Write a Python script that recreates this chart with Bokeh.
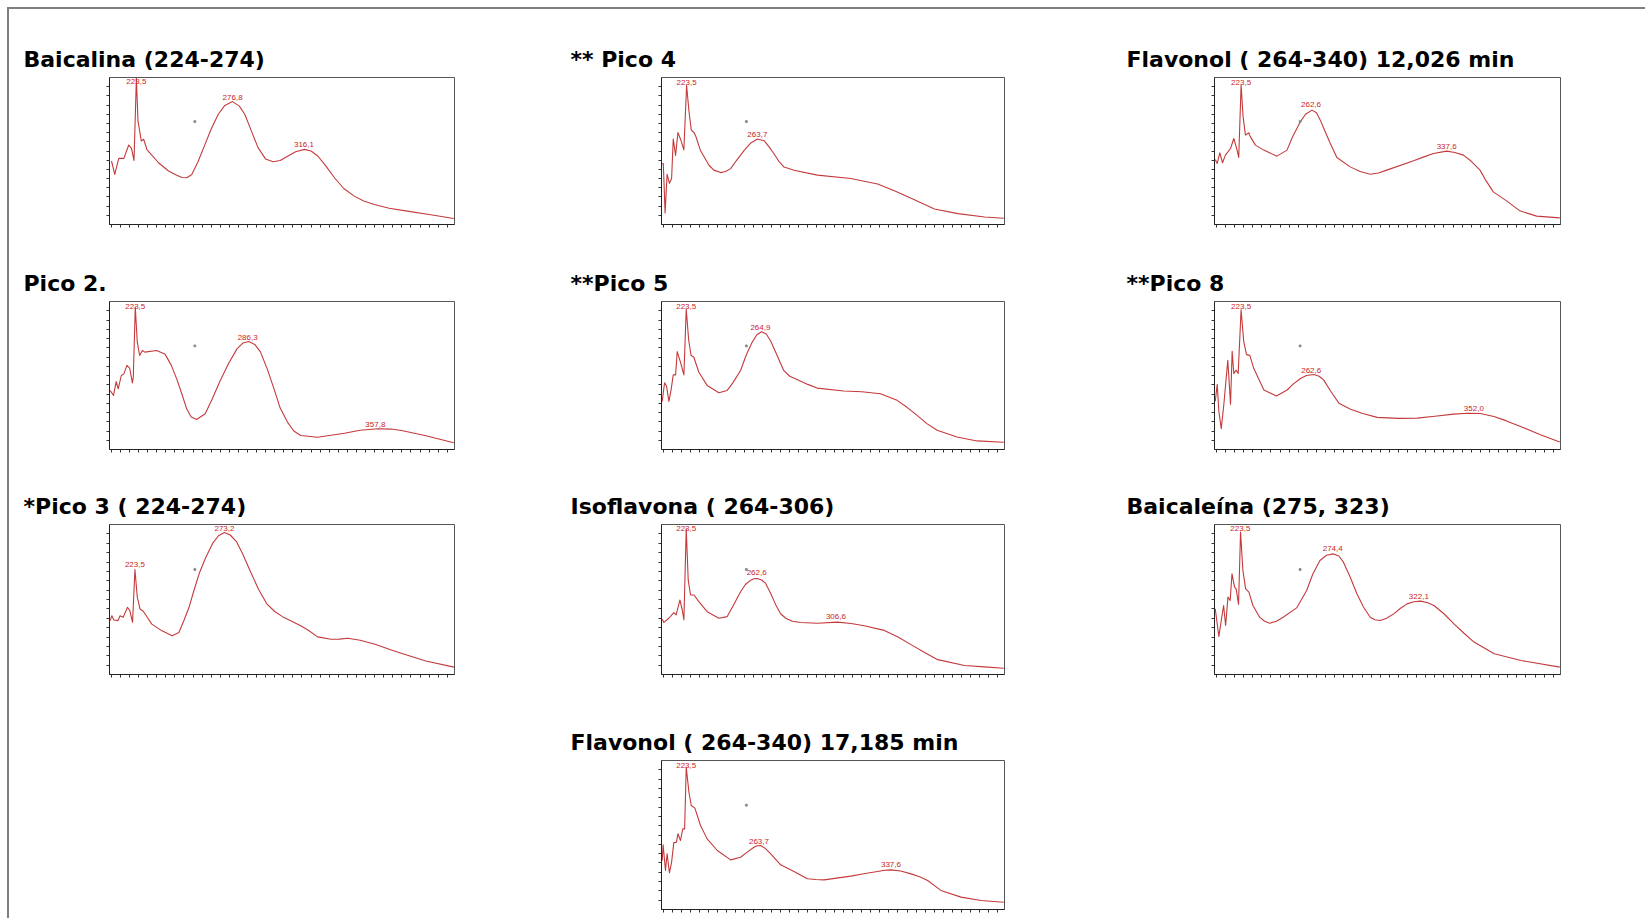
from bokeh.plotting import figure
from bokeh.layouts import row, column
from bokeh.models import Range1d, Spacer, Div, FixedTicker
from bokeh.embed import file_html
from bokeh.resources import INLINE
from bokeh.core.properties import value

# ---------------- data (wavelength nm, relative absorbance %) ----------------
baicalina_nm = [210.1, 211.9, 214.1, 216.9, 219.6, 221.1, 222.5, 223.8, 224.7, 226.5, 227.8, 229.6, 236.0, 241.5, 246.0, 249.0, 251.6, 254.3, 257.5, 261.6, 265.0, 268.9, 272.5, 276.8, 280.5, 283.5, 287.0, 290.8, 295.0, 299.1, 303.0, 307.3, 311.5, 316.4, 320.0, 323.7, 328.0, 332.9, 338.0, 343.8, 349.0, 354.8, 363.0, 373.0, 385.0, 398.6]
baicalina_ab = [43.2, 34.1, 45.0, 45.0, 54.1, 51.8, 43.6, 99.5, 70.5, 56.8, 58.0, 51.0, 42.0, 36.4, 33.5, 32.0, 31.8, 34.0, 42.0, 54.5, 65.0, 75.0, 81.0, 83.6, 80.5, 75.0, 64.0, 52.3, 44.5, 42.7, 43.5, 46.6, 49.5, 51.1, 50.0, 46.6, 40.0, 31.8, 24.5, 19.3, 16.0, 13.6, 11.0, 9.1, 6.8, 4.1]
baicalina_lbl_nm = [223.8, 276.8, 316.1]
baicalina_lbl_ab = [95.5, 85.0, 52.8]
baicalina_lbl = ["223,5", "276,8", "316,1"]

pico4_nm = [209.4, 210.0, 211.0, 212.1, 213.4, 214.6, 215.5, 216.8, 218.1, 219.5, 221.4, 222.9, 224.2, 225.5, 227.0, 227.9, 230.6, 235.3, 238.0, 241.7, 244.5, 247.3, 250.5, 254.7, 258.5, 262.1, 265.8, 268.5, 271.3, 274.0, 276.9, 282.4, 295.4, 313.9, 328.7, 338.0, 349.1, 360.2, 373.2, 388.0, 398.6]
pico4_ab = [41.4, 41.4, 7.8, 34.2, 28.0, 31.3, 58.2, 47.0, 62.6, 58.2, 50.8, 94.6, 77.2, 64.2, 62.6, 60.4, 50.3, 40.3, 37.0, 35.3, 36.0, 38.0, 43.5, 50.3, 55.5, 58.2, 57.0, 53.0, 48.1, 43.0, 39.1, 36.9, 33.6, 31.3, 27.5, 23.0, 16.8, 10.5, 7.4, 5.1, 4.3]
pico4_lbl_nm = [222.9, 262.1]
pico4_lbl_ab = [95.0, 59.3]
pico4_lbl = ["223,5", "263,7"]

flav12_nm = [209.4, 210.5, 211.9, 213.4, 215.0, 217.8, 219.6, 221.4, 222.3, 223.6, 224.7, 226.0, 227.8, 228.7, 231.5, 236.0, 243.3, 248.8, 252.0, 256.1, 259.0, 262.5, 265.0, 267.1, 269.5, 272.6, 276.2, 283.5, 289.0, 294.5, 299.0, 303.6, 318.3, 324.0, 329.2, 336.5, 341.0, 345.7, 350.0, 354.8, 358.0, 362.1, 369.4, 376.7, 385.9, 398.6]
flav12_ab = [44.2, 41.5, 48.8, 42.0, 47.2, 51.7, 58.5, 50.6, 45.6, 94.8, 73.2, 60.8, 62.4, 59.6, 54.0, 50.6, 46.5, 50.6, 60.0, 69.8, 75.0, 77.8, 76.0, 71.0, 64.0, 55.1, 45.6, 39.2, 36.0, 34.2, 35.0, 37.0, 43.3, 46.0, 48.3, 49.9, 49.0, 47.2, 43.0, 37.0, 30.0, 22.2, 16.1, 9.3, 5.7, 4.5]
flav12_lbl_nm = [223.6, 262.0, 336.5]
flav12_lbl_ab = [95.0, 79.6, 51.2]
flav12_lbl = ["223,5", "262,6", "337,6"]

pico2_nm = [209.4, 211.2, 212.7, 213.8, 215.5, 216.9, 218.6, 220.1, 221.6, 222.1, 223.2, 224.3, 225.6, 227.1, 228.4, 234.9, 239.5, 243.0, 246.0, 249.0, 251.5, 254.0, 257.0, 261.7, 265.5, 270.0, 274.5, 279.2, 282.5, 285.7, 289.0, 292.2, 296.0, 299.6, 303.0, 307.0, 310.5, 314.3, 323.6, 338.4, 347.0, 356.8, 364.0, 369.8, 382.7, 398.6]
pico2_ab = [39.9, 36.5, 45.9, 41.0, 50.0, 51.1, 56.8, 55.0, 45.0, 48.9, 96.2, 72.5, 63.5, 66.9, 65.8, 66.9, 64.6, 57.0, 47.7, 37.0, 27.5, 22.0, 20.3, 24.1, 34.0, 46.6, 58.0, 68.0, 72.0, 73.0, 71.0, 65.8, 54.0, 41.0, 28.0, 18.5, 12.5, 9.5, 8.3, 11.0, 13.0, 14.0, 13.8, 12.8, 9.5, 4.5]
pico2_lbl_nm = [223.2, 285.1, 355.4]
pico2_lbl_ab = [95.0, 74.3, 15.1]
pico2_lbl = ["223,5", "286,3", "357,8"]

pico5_nm = [209.4, 210.7, 211.8, 213.1, 214.4, 215.5, 216.8, 217.7, 219.5, 221.4, 222.7, 224.1, 225.4, 226.9, 229.7, 234.3, 240.8, 245.4, 248.5, 252.8, 256.0, 259.2, 261.8, 264.4, 267.0, 269.4, 272.5, 276.7, 280.0, 284.1, 290.0, 295.2, 310.0, 320.0, 330.3, 339.5, 345.0, 350.6, 356.0, 361.7, 372.7, 383.8, 398.6]
pico5_ab = [32.5, 45.1, 42.8, 32.5, 41.0, 50.4, 50.4, 66.1, 59.0, 50.4, 94.8, 73.5, 63.5, 62.3, 52.2, 43.3, 38.3, 39.9, 45.0, 53.4, 64.0, 72.4, 77.5, 79.6, 78.0, 73.5, 65.0, 53.4, 49.5, 47.3, 44.0, 41.5, 39.5, 39.0, 37.7, 33.2, 28.5, 23.1, 17.5, 13.0, 8.5, 5.8, 4.9]
pico5_lbl_nm = [222.7, 263.8]
pico5_lbl_ab = [95.0, 80.9]
pico5_lbl = ["223,5", "264,9"]

pico8_nm = [209.4, 210.5, 211.4, 212.7, 214.1, 216.3, 217.8, 218.7, 219.6, 220.9, 222.0, 223.6, 225.1, 226.6, 228.4, 230.6, 236.1, 243.0, 248.9, 252.0, 256.2, 259.5, 263.5, 266.5, 269.0, 273.0, 277.3, 283.7, 290.0, 298.3, 310.0, 320.3, 330.0, 340.4, 348.0, 355.0, 362.4, 369.0, 377.0, 388.0, 398.6]
pico8_ab = [32.4, 44.0, 25.7, 14.1, 30.1, 60.3, 30.6, 66.3, 51.3, 53.6, 51.3, 94.4, 72.5, 64.1, 63.6, 54.7, 40.2, 36.2, 40.2, 44.0, 48.0, 50.0, 50.7, 49.5, 46.9, 39.0, 31.3, 27.2, 24.5, 21.7, 21.0, 21.2, 22.5, 23.9, 24.5, 24.3, 22.3, 19.5, 15.6, 10.0, 5.1]
pico8_lbl_nm = [223.6, 262.1, 351.4]
pico8_lbl_ab = [95.0, 52.0, 26.1]
pico8_lbl = ["223,5", "262,6", "352,0"]

pico3_nm = [209.4, 210.3, 211.4, 213.7, 214.8, 216.5, 218.9, 220.2, 221.7, 223.0, 224.3, 225.8, 227.6, 232.3, 237.9, 243.5, 247.2, 250.0, 252.8, 255.5, 258.4, 262.0, 265.8, 269.0, 272.3, 275.5, 278.9, 282.5, 286.3, 291.0, 295.6, 300.0, 304.9, 314.3, 318.5, 323.6, 331.0, 335.5, 340.3, 347.0, 355.2, 364.6, 374.0, 383.2, 398.7]
pico3_ab = [35.9, 39.2, 36.3, 35.9, 39.2, 38.1, 44.8, 42.6, 34.8, 70.0, 51.6, 43.7, 42.2, 33.6, 29.1, 25.8, 28.0, 36.0, 44.8, 56.0, 67.3, 78.0, 87.4, 92.5, 94.6, 93.0, 88.6, 80.0, 69.5, 57.0, 47.1, 42.0, 38.1, 32.5, 29.5, 25.1, 23.5, 23.6, 24.2, 22.8, 20.2, 16.1, 12.5, 9.0, 4.9]
pico3_lbl_nm = [223.0, 272.3]
pico3_lbl_ab = [71.7, 95.5]
pico3_lbl = ["223,5", "273,2"]

isofl_nm = [209.4, 210.3, 213.1, 215.8, 217.1, 219.2, 220.5, 221.4, 222.7, 223.8, 225.1, 227.0, 229.7, 234.3, 240.8, 245.4, 249.0, 252.8, 255.5, 258.4, 260.2, 262.1, 264.5, 266.7, 269.5, 272.3, 275.0, 277.8, 281.5, 286.1, 295.4, 306.5, 314.0, 321.3, 332.4, 340.0, 347.2, 355.0, 362.0, 376.8, 387.9, 398.6]
isofl_ab = [36.9, 34.7, 37.5, 41.3, 39.7, 49.7, 43.0, 36.4, 97.1, 62.9, 53.0, 53.0, 48.6, 41.9, 37.5, 38.6, 46.5, 55.2, 60.0, 62.9, 63.8, 64.0, 63.0, 60.7, 54.0, 46.4, 40.5, 37.5, 35.5, 34.7, 34.2, 34.9, 34.0, 32.5, 29.4, 25.0, 19.9, 14.5, 9.9, 6.0, 5.1, 4.2]
isofl_lbl_nm = [222.7, 261.7, 305.6]
isofl_lbl_ab = [96.0, 66.2, 36.9]
isofl_lbl = ["223,5", "262,6", "306,6"]

baicalein_nm = [209.4, 211.4, 212.7, 214.0, 215.1, 216.4, 217.6, 218.6, 220.0, 220.9, 222.2, 223.3, 224.6, 226.1, 227.9, 230.1, 233.8, 236.5, 239.3, 243.0, 246.7, 254.1, 259.6, 263.0, 266.9, 270.5, 274.3, 277.3, 279.8, 283.5, 287.2, 290.8, 294.5, 297.0, 300.0, 303.5, 307.4, 311.0, 314.7, 318.5, 322.1, 325.8, 329.5, 335.0, 340.5, 346.0, 351.5, 362.6, 377.3, 398.6]
baicalein_ab = [43.8, 25.3, 36.0, 46.0, 32.7, 51.6, 49.3, 67.1, 58.2, 57.1, 46.7, 94.9, 69.3, 57.1, 54.9, 46.0, 38.2, 35.5, 34.2, 35.5, 38.2, 44.4, 56.0, 67.0, 76.0, 79.5, 80.4, 79.0, 74.9, 65.0, 53.8, 45.0, 38.2, 36.5, 36.0, 37.5, 40.4, 44.0, 47.1, 48.5, 48.9, 48.0, 46.0, 40.5, 33.8, 27.5, 21.6, 13.8, 9.3, 4.9]
baicalein_lbl_nm = [223.2, 273.9, 321.2]
baicalein_lbl_ab = [95.5, 82.2, 50.4]
baicalein_lbl = ["223,5", "274,4", "322,1"]

flav17_nm = [209.4, 209.9, 211.2, 212.1, 213.4, 214.6, 215.8, 217.3, 218.1, 219.5, 220.8, 221.8, 222.7, 224.2, 225.5, 227.5, 230.6, 234.3, 239.9, 247.3, 252.8, 256.5, 260.2, 262.0, 263.9, 266.5, 269.5, 275.0, 282.4, 289.8, 294.5, 299.1, 313.9, 321.0, 328.7, 332.5, 336.1, 341.5, 347.2, 352.0, 356.4, 363.8, 374.9, 386.0, 398.6]
flav17_ab = [32.9, 43.4, 26.2, 37.4, 24.6, 31.8, 44.7, 45.2, 50.8, 46.3, 54.1, 54.1, 95.5, 78.7, 69.8, 68.0, 56.4, 47.4, 39.6, 33.3, 35.1, 38.5, 41.8, 42.8, 43.0, 41.0, 37.4, 30.0, 25.5, 20.6, 20.1, 19.9, 22.4, 24.0, 25.5, 26.3, 26.6, 25.8, 23.9, 22.0, 19.5, 12.8, 8.3, 6.0, 4.9]
flav17_lbl_nm = [222.7, 263.0, 336.1]
flav17_lbl_ab = [95.0, 44.1, 28.4]
flav17_lbl = ["223,5", "263,7", "337,6"]

cursor_nm = [256.0]
cursor_ab = [70.0]

titles = ["Baicalina (224-274)", "** Pico 4", "Flavonol ( 264-340) 12,026 min",
          "Pico 2.", "**Pico 5", "**Pico 8",
          "*Pico 3 ( 224-274)", "Isoflavona ( 264-306)", "Baicaleína (275, 323)",
          "Flavonol ( 264-340) 17,185 min"]

LINE = "#c43a3c"
LBL = "#cc2424"

X_TICKS = [210 + 5 * i for i in range(38)]
Y_TICKS = [6.25 * i for i in range(1, 16)]


def panel(title, nm, ab, lnm, lab, ltxt, fw, fh, left, right, top, bottom, toff):
    assert len(nm) == len(ab), title
    p = figure(frame_width=fw, frame_height=fh,
               x_range=Range1d(209, 399), y_range=Range1d(0, 100),
               output_backend="svg", toolbar_location=None,
               min_border_left=left, min_border_right=right,
               min_border_top=top, min_border_bottom=bottom,
               title=title)
    p.title.text_font = "DejaVu Sans"
    p.title.text_font_style = "bold"
    p.title.text_font_size = "22px"
    p.title.text_color = "black"
    p.title.align = "left"
    p.title.offset = toff
    p.title.standoff = 12
    p.line(nm, ab, line_color=LINE, line_width=1.1, line_join="round")
    p.text(lnm, lab, text=ltxt, text_font=value("Liberation Sans"),
           text_font_size="8px", text_color=LBL, text_align="center",
           text_baseline="bottom")
    p.scatter(cursor_nm, cursor_ab, size=1.8, marker="square",
              color="#8a8a8a")
    p.grid.visible = False
    p.outline_line_color = "#555555"
    p.outline_line_width = 1
    p.background_fill_color = "white"
    p.border_fill_color = "white"
    for ax in (p.xaxis[0], p.yaxis[0]):
        ax.axis_line_color = "#222222"
        ax.major_tick_line_color = None
        ax.minor_tick_in = 0
        ax.minor_tick_out = 3
        ax.minor_tick_line_color = "#333333"
        ax.major_label_standoff = 0
    p.xaxis[0].ticker = FixedTicker(ticks=[], minor_ticks=X_TICKS)
    p.yaxis[0].ticker = FixedTicker(ticks=[], minor_ticks=Y_TICKS)
    return p


# column geometry: (frame_width, left border, right border, title offset)
cols = [(345, 100, 96, -86), (343, 111, 96, -91), (346, 114, 85, -88)]
# row geometry: (frame_height, top border, bottom border)
rows_g = [(147, 68, 26), (148, 51, 26), (150, 49, 26), (149, 60, 9)]

data = [
    (baicalina_nm, baicalina_ab, baicalina_lbl_nm, baicalina_lbl_ab, baicalina_lbl),
    (pico4_nm, pico4_ab, pico4_lbl_nm, pico4_lbl_ab, pico4_lbl),
    (flav12_nm, flav12_ab, flav12_lbl_nm, flav12_lbl_ab, flav12_lbl),
    (pico2_nm, pico2_ab, pico2_lbl_nm, pico2_lbl_ab, pico2_lbl),
    (pico5_nm, pico5_ab, pico5_lbl_nm, pico5_lbl_ab, pico5_lbl),
    (pico8_nm, pico8_ab, pico8_lbl_nm, pico8_lbl_ab, pico8_lbl),
    (pico3_nm, pico3_ab, pico3_lbl_nm, pico3_lbl_ab, pico3_lbl),
    (isofl_nm, isofl_ab, isofl_lbl_nm, isofl_lbl_ab, isofl_lbl),
    (baicalein_nm, baicalein_ab, baicalein_lbl_nm, baicalein_lbl_ab, baicalein_lbl),
    (flav17_nm, flav17_ab, flav17_lbl_nm, flav17_lbl_ab, flav17_lbl),
]

grid_rows = []
k = 0
for ri, (fh, top, bot) in enumerate(rows_g):
    kids = []
    for ci, (fw, left, right, toff) in enumerate(cols):
        if ri == 3 and ci != 1:
            kids.append(Spacer(width=fw + left + right, height=fh + top + bot))
            continue
        d = data[k]
        kids.append(panel(titles[k], *d, fw, fh, left, right, top, bot, toff))
        k += 1
    grid_rows.append(row(*kids, spacing=0))

grid = column(*grid_rows, spacing=0)
topline = Div(text="", width=1638, height=2, margin=0,
              styles={"background-color": "#7f7f7f"})
leftline = Div(text="", width=2, height=909, margin=0,
               styles={"background-color": "#7f7f7f"})

layout = column(Spacer(width=1640, height=7),
                row(Spacer(width=7, height=911),
                    column(topline, row(leftline, grid, spacing=0), spacing=0),
                    spacing=0),
                spacing=0)

open("out.html", "w").write(file_html(layout, INLINE))
